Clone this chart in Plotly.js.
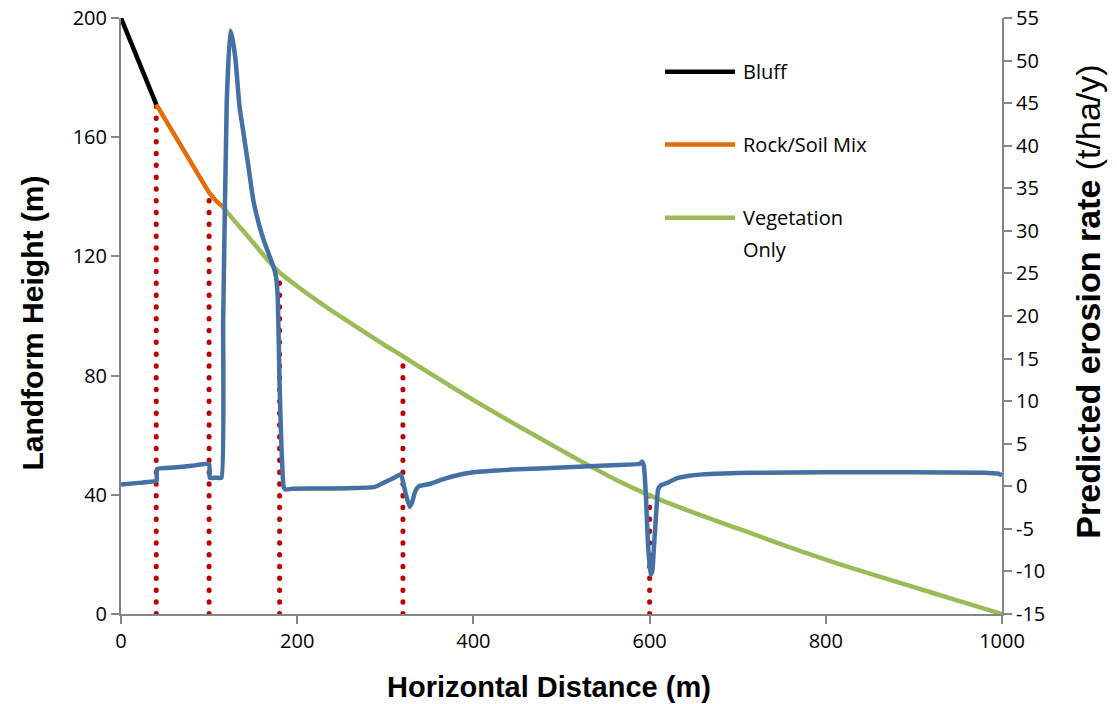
<!DOCTYPE html>
<html>
<head>
<meta charset="utf-8">
<script src="https://cdn.plot.ly/plotly-3.0.1.min.js"></script>
<style>html,body{margin:0;padding:0;background:#fff;}#chart{width:1117px;height:704px;}</style>
</head>
<body>
<div id="chart"></div>
<script>
// Landform profile (left axis, m)
const bluffX = [0, 40];
const bluffY = [200, 171];
const rockX = [40, 55, 70, 85, 100, 108, 115];
const rockY = [171, 163.5, 156.2, 148.8, 141.4, 138.6, 136.8];
const vegX = [115, 130, 147, 165, 180, 200, 219, 240, 256, 280, 300, 320, 345, 370, 400, 446, 500, 522, 560, 600, 650, 703, 760, 817, 900, 950, 1000];
const vegY = [136.8, 131.5, 125.7, 119.3, 114.6, 110.0, 105.9, 101.6, 98.5, 93.9, 90.1, 86.5, 81.8, 77.2, 71.8, 63.9, 54.9, 51.3, 45.3, 39.8, 34.0, 28.4, 22.3, 16.6, 9.0, 4.5, 0];

// Zone boundaries (dotted markers)
const boundX = [40, 100, 180, 320, 600];
const boundTop = [171, 141.4, 114.6, 86.5, 39.8];

// Predicted erosion rate (right axis, t/ha/y)
const erosX = [0, 20, 39, 40.5, 41, 60, 80, 100, 100.8, 108, 114, 116, 120, 124, 126, 130, 134.5, 139, 145, 150, 156, 162, 168, 173, 176, 178, 180, 182, 184.5, 186.5, 194, 220, 260, 287, 294, 302, 310, 317, 319, 323, 327.5, 330, 334, 338, 342, 351, 365, 385, 400, 450, 500, 550, 589, 591.5, 593.5, 596, 598, 601, 603, 605, 607, 609.6, 612.5, 620, 630, 643, 660, 700, 726, 800, 900, 980, 995, 1000];
const erosY = [0.2, 0.4, 0.6, 0.7, 2.05, 2.2, 2.4, 2.6, 1.0, 1.0, 1.0, 19.6, 45, 53.5, 52.8, 50.1, 44.6, 41.5, 37.3, 33.7, 31.0, 28.9, 27.2, 25.8, 24.6, 22, 12, 5, 0, -0.38, -0.3, -0.27, -0.22, -0.1, 0.2, 0.6, 1.0, 1.4, 1.0, -0.8, -2.4, -2.0, -0.6, 0.0, 0.1, 0.3, 0.8, 1.38, 1.65, 2.0, 2.2, 2.45, 2.65, 2.9, 2.4, -1.5, -6.5, -10.4, -10.0, -7.0, -3.9, -0.4, 0.1, 0.4, 0.9, 1.2, 1.4, 1.55, 1.6, 1.65, 1.65, 1.6, 1.5, 1.3];

// Axis ticks
const xTicks = [0, 200, 400, 600, 800, 1000];
const yTicks = [0, 40, 80, 120, 160, 200];
const y2Ticks = [-15, -10, -5, 0, 5, 10, 15, 20, 25, 30, 35, 40, 45, 50, 55];

// Titles
const xTitle = "<b>Horizontal Distance (m)</b>";
const yTitle = "<b>Landform Height (m)</b>";
const y2Title = "<b>Predicted erosion rate</b> (t/ha/y)";

// Legend entries
const legendLines = [["Bluff"], ["Rock/Soil Mix"], ["Vegetation", "Only"]];
const colors = {bluff: "#000000", rock: "#E46C0A", veg: "#9BBB59", eros: "#4470A6", bound: "#C00000"};
const legendColors = [colors.bluff, colors.rock, colors.veg];

// Build boundary segments separated by nulls
const bx = [], by = [];
boundX.forEach((x, i) => { bx.push(x, x, null); by.push(0, boundTop[i], null); });

const tickFont = {family: "Open Sans, sans-serif", size: 20, color: "#000"};
const axisCommon = {
  showgrid: false, zeroline: false, showline: true, linecolor: "#868686", linewidth: 2,
  ticks: "outside", ticklen: 8, tickwidth: 2, tickcolor: "#868686", tickfont: tickFont
};

const traces = [
  {x: bx, y: by, mode: "lines", line: {color: colors.bound, width: 5, dash: "0.5px,11.3px"}, xaxis: "x", yaxis: "y", showlegend: false, hoverinfo: "skip"},
  {x: vegX, y: vegY, mode: "lines", line: {color: colors.veg, width: 4.5, shape: "spline", smoothing: 0.6}, name: "Vegetation Only", showlegend: false},
  {x: rockX, y: rockY, mode: "lines", line: {color: colors.rock, width: 4.5}, name: "Rock/Soil Mix", showlegend: false},
  {x: bluffX, y: bluffY, mode: "lines", line: {color: colors.bluff, width: 4.5}, name: "Bluff", showlegend: false},
  {x: erosX, y: erosY, mode: "lines", line: {color: colors.eros, width: 4.5, shape: "spline", smoothing: 0.4}, yaxis: "y2", name: "Erosion", showlegend: false}
];

// Legend drawn as shapes + annotations in paper coordinates
const legX0 = 0.6175, legX1 = 0.697, legTextX = 0.704;
const legRowY = [0.910, 0.7877, 0.665];
const lineGap = 32 / 596;
const shapes = legRowY.map((yy, i) => ({type: "line", xref: "paper", yref: "paper", x0: legX0, x1: legX1, y0: yy, y1: yy, line: {color: legendColors[i], width: 4.5}}));
const annotations = [];
legRowY.forEach((yy, i) => {
  legendLines[i].forEach((txt, j) => {
    annotations.push({
      xref: "paper", yref: "paper", x: legTextX, y: yy - j * lineGap, xanchor: "left", yanchor: "middle",
      text: txt, showarrow: false, align: "left",
      font: {family: "Open Sans, sans-serif", size: 20, color: "#000"}
    });
  });
});
const titleFont = (s) => ({family: "Liberation Sans, Arial, sans-serif", size: s, color: "#000"});
annotations.push(
  {xref: "paper", yref: "paper", x: 0.486, y: -0.1233, xanchor: "center", yanchor: "middle", text: xTitle, showarrow: false, font: titleFont(29)},
  {xref: "paper", yref: "paper", x: -0.0999, y: 0.489, xanchor: "center", yanchor: "middle", textangle: -90, text: yTitle, showarrow: false, font: titleFont(30)},
  {xref: "paper", yref: "paper", x: 1.0976, y: 0.524, xanchor: "center", yanchor: "middle", textangle: -90, text: y2Title, showarrow: false, font: titleFont(34)}
);

const layout = {
  width: 1117, height: 704,
  margin: {l: 121, r: 115, t: 18, b: 89.5},
  paper_bgcolor: "#fff", plot_bgcolor: "#fff",
  showlegend: false,
  xaxis: Object.assign({}, axisCommon, {range: [0, 1000], tickvals: xTicks, ticktext: xTicks.map(String)}),
  yaxis: Object.assign({}, axisCommon, {range: [0, 200], tickvals: yTicks, ticktext: yTicks.map(String)}),
  yaxis2: Object.assign({}, axisCommon, {
    range: [-15, 55], tickvals: y2Ticks, ticktext: y2Ticks.map(String), overlaying: "y", side: "right"
  }),
  shapes: shapes,
  annotations: annotations
};

Plotly.newPlot("chart", traces, layout, {displayModeBar: false, staticPlot: true}).then(() => {
  const t = document.querySelector("#chart .scatterlayer .trace");
  if (t) t.querySelectorAll("path.js-line").forEach(p => { p.style.strokeLinecap = "round"; });
});
</script>
</body>
</html>
